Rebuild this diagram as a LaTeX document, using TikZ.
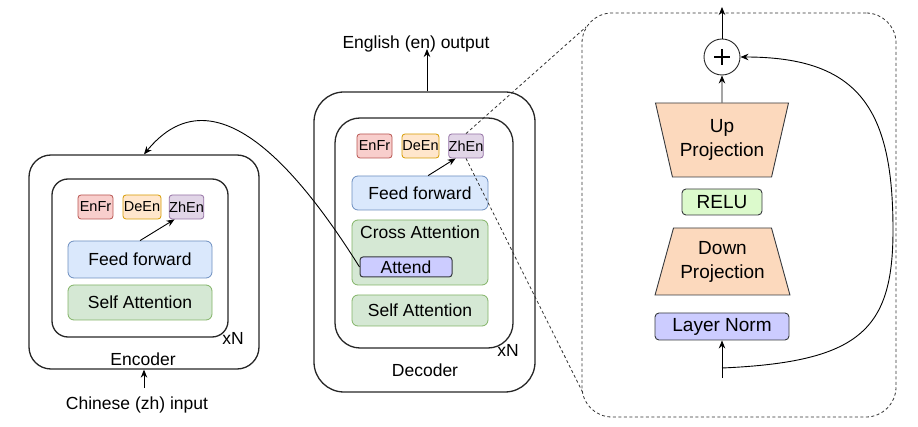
\documentclass[tikz,border=0pt]{standalone}
\usepackage{fontspec}
\setmainfont{Liberation Sans}
\usetikzlibrary{arrows.meta,shapes.geometric}
\definecolor{redF}{HTML}{F8CECC}\definecolor{redD}{HTML}{B85450}
\definecolor{orF}{HTML}{FFE6CC}\definecolor{orD}{HTML}{D79B00}
\definecolor{puF}{HTML}{E1D5E7}\definecolor{puD}{HTML}{9673A6}
\definecolor{blF}{HTML}{DAE8FC}\definecolor{blD}{HTML}{6C8EBF}
\definecolor{grF}{HTML}{D5E8D4}\definecolor{grD}{HTML}{82B366}
\definecolor{lavF}{HTML}{CCCCFF}\definecolor{dk}{HTML}{36393D}
\definecolor{peF}{HTML}{FCD9BD}\definecolor{reluF}{HTML}{DCFACC}
\tikzset{
  x=1pt,y=-1pt,
  txt/.style={font=\fontsize{17.5}{21}\selectfont},
  bigtxt/.style={font=\fontsize{19}{24}\selectfont},
  tagtxt/.style={font=\fontsize{14.5}{17}\selectfont},
  outerbox/.style={draw=black!85,line width=1.3pt,inner sep=0pt},
  tagbox/.style={tagtxt,rounded corners=3pt,line width=0.8pt,inner sep=0pt,minimum height=24pt},
  blockbox/.style={txt,rounded corners=6pt,line width=0.8pt,inner sep=0pt},
  darkbox/.style={bigtxt,rounded corners=4pt,line width=0.9pt,draw=dk,inner sep=0pt},
  trap/.style={bigtxt,trapezium,trapezium stretches=true,draw=dk,fill=peF,line width=0.9pt,inner sep=0pt,align=center},
  arr/.style={-{Stealth[length=8pt,width=6.5pt]},line width=0.9pt,draw=black},
  dashline/.style={draw=black!80,line width=0.8pt,dash pattern=on 3pt off 2.5pt},
}
\begin{document}
\begin{tikzpicture}
\useasboundingbox (0,0) rectangle (918,427);
% ---------- Encoder ----------
\node[outerbox,rounded corners=22pt,minimum width=230pt,minimum height=214pt] (encout) at (144,262) {};
\node[outerbox,rounded corners=16pt,minimum width=176pt,minimum height=158pt] (encin) at (140,258) {};
\node[tagbox,draw=redD,fill=redF,minimum width=35pt] (enfr) at (95.5,207) {EnFr};
\node[tagbox,draw=orD,fill=orF,minimum width=38pt] (deen) at (142,207) {DeEn};
\node[tagbox,draw=puD,fill=puF,minimum width=33pt] (zhe) at (186.5,207) {ZhEn};
\node[blockbox,draw=blD,fill=blF,minimum width=144pt,minimum height=37pt] (eff) at (140,259.5) {Feed forward};
\node[blockbox,draw=grD,fill=grF,minimum width=144pt,minimum height=35pt] (esa) at (140,302.5) {Self Attention};
\node[txt] (exn) at (233,338) {xN};
\node[txt] (enclab) at (143,359) {Encoder};
\node[txt] (zhin) at (137,405) {Chinese (zh) input};
\coordinate (zhinTop) at (144,388);
\draw[arr] (zhinTop) -- (encout.south);
\draw[arr] (eff.north) -- (zhe.226);
% ---------- Decoder ----------
\node[outerbox,rounded corners=30pt,minimum width=221pt,minimum height=300pt] (decout) at (424.5,242) {};
\node[outerbox,rounded corners=25pt,minimum width=178pt,minimum height=230pt] (decin) at (424,233) {};
\node[tagbox,draw=redD,fill=redF,minimum width=35pt] (denfr) at (374.5,146) {EnFr};
\node[tagbox,draw=orD,fill=orF,minimum width=37pt] (ddeen) at (420.5,146) {DeEn};
\node[tagbox,draw=puD,fill=puF,minimum width=34pt] (dzhe) at (466,146) {ZhEn};
\node[blockbox,draw=blD,fill=blF,minimum width=136pt,minimum height=34pt] (dff) at (420,193) {Feed forward};
\node[blockbox,draw=grD,fill=grF,minimum width=136pt,minimum height=65pt] (dca) at (420,252.5) {};
\node[txt] (dcalab) at (420,232) {Cross Attention};
\node[blockbox,draw=dk,fill=lavF,line width=1pt,rounded corners=3pt,minimum width=92pt,minimum height=20pt] (att) at (406,267) {Attend};
\node[blockbox,draw=grD,fill=grF,minimum width=136pt,minimum height=31pt] (dsa) at (420,310.5) {Self Attention};
\node[txt] (dxn) at (508,350) {xN};
\node[txt] (declab) at (425,370) {Decoder};
\node[txt] (enout) at (416,44) {English (en) output};
\coordinate (enoutTip) at (427,49);
\draw[arr] (decout.north) ++(2.5,0) -- (enoutTip);
\draw[arr] (dff.65) -- (dzhe.230);
% cross connection
\draw[arr] (att.west) .. controls (280,140) and (205,80) .. (encout.north);
% ---------- Adapter panel ----------
\node[draw=black!80,line width=0.8pt,dash pattern=on 3pt off 2.5pt,rounded corners=30pt,minimum width=314pt,minimum height=404pt,inner sep=0pt] (panel) at (739,215) {};
\coordinate (pc1) at (586,27);
\coordinate (pc2) at (583,393);
\draw[dashline] (dzhe.north) -- (pc1);
\draw[dashline] (dzhe.south) -- (pc2);
\node[circle,draw=black!85,fill=white,line width=0.9pt,minimum size=36pt,inner sep=0pt] (plus) at (722,57) {};
\draw[line width=2.2pt] (plus.center) ++(-8,0) -- ++(16,0) (plus.center) ++(0,-8) -- ++(0,16);
\coordinate (outTip) at (722,7);
\draw[arr] (plus.north) -- (outTip);
\node[trap,shape border rotate=180,minimum width=133pt,minimum height=74pt,trapezium left angle=70.6,trapezium right angle=70.6] (up) at (722,140) {Up\\Projection};
\node[darkbox,fill=reluF,minimum width=80pt,minimum height=26pt] (relu) at (722,202) {RELU};
\node[trap,minimum width=135pt,minimum height=67pt,trapezium left angle=68.8,trapezium right angle=68.8] (down) at (722.5,261.5) {Down\\Projection};
\node[darkbox,fill=lavF,minimum width=134pt,minimum height=27pt] (ln) at (722,326.5) {Layer Norm};
\draw[arr] (up.north) -- (plus.south);
\coordinate (inp) at (722,378);
\coordinate (branch) at (722,368);
\draw[arr] (inp) -- (ln.south);
\draw[arr] (branch) .. controls (860,362) and (893,330) .. (893,230) .. controls (893,110) and (860,57) .. (plus.east);
\end{tikzpicture}
\end{document}
